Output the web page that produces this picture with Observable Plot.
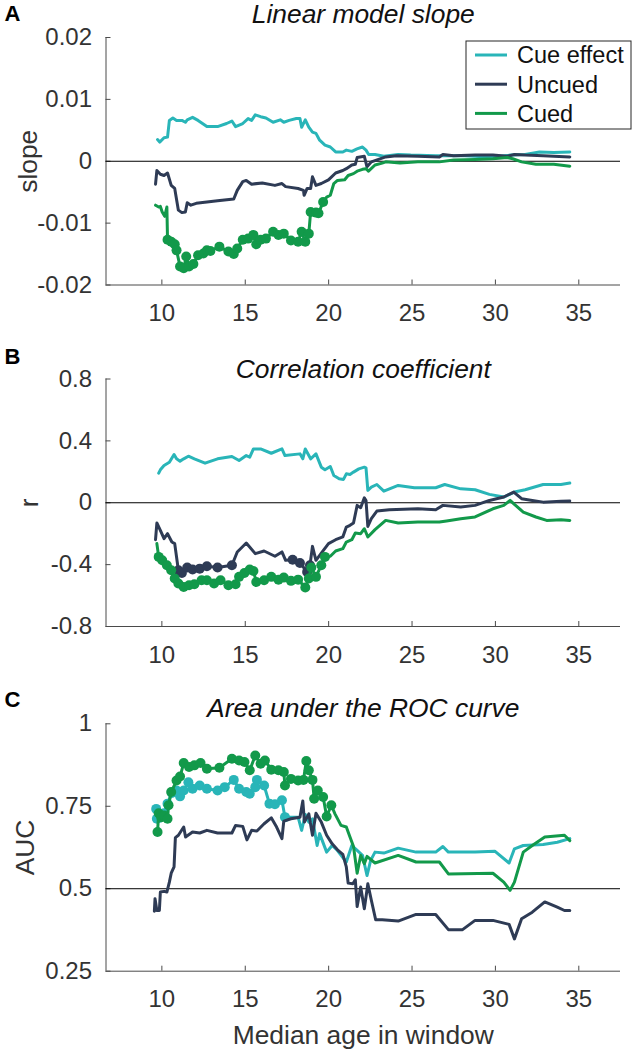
<!DOCTYPE html>
<html>
<head>
<meta charset="utf-8">
<script src="https://cdn.jsdelivr.net/npm/d3@7"></script>
<script src="https://cdn.jsdelivr.net/npm/@observablehq/plot@0.6"></script>
<style>
  html, body { margin: 0; padding: 0; background: #fff; }
  #root { position: relative; width: 635px; height: 1050px; overflow: hidden; font-family: "Liberation Sans", Arial, Helvetica, sans-serif; }
  #root > svg { position: absolute; left: 0; }
</style>
</head>
<body>
<div id="root"></div>
<script>
// ---------- data ----------
const seriesNames = ["Cue effect", "Uncued", "Cued"];
const seriesColors = ["#29b5b8", "#2e3b55", "#12994a"];

const xDomain = [6.65, 37.5];
const xTicks = [10, 15, 20, 25, 30, 35];
const xTickLabels = ["10", "15", "20", "25", "30", "35"];

// Panel A: linear model slope
const slopeTicks = [-0.02, -0.01, 0, 0.01, 0.02];
const slopeTickLabels = ["-0.02", "-0.01", "0", "0.01", "0.02"];
const slopeCue = [[9.74,0.0035],[9.87,0.0031],[10.13,0.0038],[10.34,0.0039],[10.45,0.0066],[10.66,0.007],[10.88,0.0066],[11.2,0.0066],[11.41,0.0063],[11.52,0.0067],[11.84,0.0071],[12.17,0.0066],[12.7,0.0056],[13.34,0.0056],[13.88,0.0061],[14.2,0.0065],[14.42,0.0056],[14.85,0.0061],[15.17,0.0069],[15.38,0.0066],[15.6,0.0075],[15.92,0.0072],[16.24,0.007],[16.67,0.0063],[17.1,0.0067],[17.31,0.0063],[17.63,0.0066],[18.06,0.0069],[18.28,0.0069],[18.38,0.0055],[18.6,0.0067],[18.81,0.0055],[19.03,0.0047],[19.24,0.0045],[19.46,0.0034],[19.78,0.0026],[20.1,0.0023],[20.42,0.0015],[20.85,0.0015],[21.06,0.0018],[21.39,0.0016],[21.7,0.002],[22.03,0.0023],[22.24,0.0018],[22.4,0.0011],[22.78,0.0011],[23.31,0.0008],[24.17,0.0011],[24.92,0.001],[26.42,0.0009],[28.14,0.0009],[29.64,0.0007],[30.93,0.001],[31.78,0.0011],[32.64,0.0015],[33.5,0.0014],[34.46,0.0015]];
const slopeUncued = [[9.62,-0.0037],[9.7,-0.0015],[9.91,-0.0021],[10.13,-0.0023],[10.34,-0.0019],[10.56,-0.0039],[10.77,-0.0044],[10.99,-0.0079],[11.2,-0.0083],[11.41,-0.0082],[11.52,-0.0067],[11.74,-0.0071],[12.06,-0.0068],[12.7,-0.0066],[13.34,-0.0064],[14.31,-0.0061],[14.52,-0.0047],[14.85,-0.0033],[15.06,-0.0031],[15.38,-0.0037],[16.02,-0.0035],[16.78,-0.0039],[17.2,-0.0036],[17.42,-0.0041],[18.17,-0.0044],[18.49,-0.0047],[18.53,-0.0055],[18.71,-0.0044],[18.92,-0.0044],[19.03,-0.0025],[19.24,-0.0039],[19.56,-0.0036],[19.99,-0.003],[20.42,-0.0019],[20.85,-0.0015],[21.06,-0.0012],[21.39,-0.0006],[21.6,-0.0005],[21.71,0.0006],[22.14,0.0008],[22.3,-0.0009],[22.56,-0.0001],[22.99,0.0003],[23.42,0.0007],[24.06,0.0009],[25.35,0.0008],[26.64,0.0007],[26.85,0.0011],[27.5,0.0009],[28.78,0.001],[29.85,0.001],[30.71,0.0008],[31.14,0.0011],[31.78,0.001],[32.86,0.0009],[34.46,0.0007]];
const slopeCued = [[9.62,-0.0071],[9.81,-0.0074],[9.91,-0.0073],[10.02,-0.0082],[10.17,-0.0089],[10.3,-0.0074],[10.34,-0.0127],[10.56,-0.013],[10.77,-0.0134],[10.88,-0.0144],[11.09,-0.017],[11.31,-0.0173],[11.46,-0.0154],[11.63,-0.017],[11.89,-0.0166],[12.17,-0.0152],[12.49,-0.0149],[12.7,-0.0144],[12.91,-0.0145],[13.45,-0.0138],[13.99,-0.0146],[14.31,-0.015],[14.52,-0.0141],[14.85,-0.0127],[15.17,-0.0125],[15.49,-0.0119],[15.66,-0.0134],[15.92,-0.0127],[16.24,-0.0125],[16.67,-0.0114],[16.99,-0.0119],[17.31,-0.0117],[17.74,-0.0128],[18.17,-0.013],[18.38,-0.0114],[18.6,-0.013],[18.81,-0.0117],[18.92,-0.0082],[19.24,-0.0083],[19.39,-0.0084],[19.67,-0.0066],[19.88,-0.0058],[20.1,-0.0055],[20.31,-0.0036],[20.53,-0.0031],[20.96,-0.003],[21.17,-0.0023],[21.49,-0.002],[21.71,-0.0016],[22.03,-0.0013],[22.24,-0.0012],[22.39,-0.0016],[22.78,-0.0006],[23.21,-0.0003],[23.42,-0.0001],[24.28,-0.0003],[25.35,-0.0001],[26.64,-0.0001],[27.5,0.0002],[28.78,0.0003],[29.85,0.0004],[30.71,0.0006],[31.04,0.0004],[31.57,-0.0001],[32.43,-0.0005],[33.5,-0.0005],[34.46,-0.0008]];
const slopeSig = [[], [], [[10.32, 19.7]]];

// Panel B: correlation coefficient
const rTicks = [-0.8, -0.4, 0, 0.4, 0.8];
const rTickLabels = ["-0.8", "-0.4", "0", "0.4", "0.8"];
const rCue = [[9.81,0.191],[9.91,0.213],[10.13,0.241],[10.45,0.262],[10.73,0.312],[10.88,0.284],[11.09,0.269],[11.31,0.284],[11.59,0.301],[11.95,0.284],[12.59,0.256],[13.34,0.284],[14.2,0.299],[14.63,0.273],[15.06,0.305],[15.27,0.295],[15.49,0.348],[15.92,0.348],[16.56,0.32],[17.2,0.348],[17.38,0.305],[18.28,0.316],[18.45,0.284],[18.6,0.348],[18.92,0.284],[19.24,0.316],[19.56,0.23],[19.78,0.213],[20.1,0.234],[20.31,0.176],[20.63,0.155],[20.89,0.151],[21.06,0.187],[21.28,0.183],[21.49,0.198],[21.81,0.219],[22.14,0.23],[22.24,0.226],[22.35,0.08],[22.56,0.101],[22.89,0.118],[23.31,0.075],[24.17,0.112],[25.14,0.097],[26.42,0.097],[26.96,0.118],[27.92,0.09],[28.78,0.084],[29.64,0.054],[30.5,0.037],[31.14,0.069],[31.78,0.084],[32.86,0.118],[33.93,0.118],[34.46,0.127]];
const rUncued = [[9.62,-0.239],[9.7,-0.131],[9.91,-0.178],[10.13,-0.232],[10.34,-0.2],[10.6,-0.254],[10.77,-0.264],[10.99,-0.436],[11.2,-0.454],[11.52,-0.419],[11.84,-0.432],[12.27,-0.426],[12.7,-0.411],[13.34,-0.419],[14.2,-0.404],[14.52,-0.318],[15.06,-0.26],[15.6,-0.329],[16.13,-0.312],[16.78,-0.346],[17.2,-0.318],[17.42,-0.372],[17.84,-0.368],[18.28,-0.389],[18.71,-0.447],[18.88,-0.404],[19.03,-0.282],[19.24,-0.372],[19.56,-0.325],[19.99,-0.264],[20.42,-0.239],[20.85,-0.221],[21.06,-0.157],[21.28,-0.146],[21.49,-0.131],[21.71,-0.017],[21.92,-0.032],[22.14,0.032],[22.24,0.015],[22.35,-0.153],[22.56,-0.103],[22.89,-0.054],[23.64,-0.045],[25.35,-0.039],[26.42,-0.045],[26.85,-0.017],[27.92,-0.028],[28.78,-0.017],[29.64,0.015],[30.5,0.037],[31.1,0.069],[31.57,0.026],[32.21,0.015],[32.86,0.004],[33.93,0.009],[34.46,0.011]];
const rCued = [[9.7,-0.264],[9.81,-0.35],[10.02,-0.372],[10.3,-0.404],[10.56,-0.436],[10.77,-0.49],[10.99,-0.522],[11.31,-0.544],[11.63,-0.533],[11.95,-0.527],[12.38,-0.501],[12.7,-0.501],[13.13,-0.522],[13.52,-0.501],[13.99,-0.533],[14.42,-0.527],[14.63,-0.479],[14.95,-0.454],[15.27,-0.432],[15.49,-0.441],[15.66,-0.512],[16.13,-0.501],[16.56,-0.479],[16.99,-0.497],[17.31,-0.484],[17.74,-0.505],[18.17,-0.497],[18.6,-0.548],[18.81,-0.49],[18.96,-0.419],[19.24,-0.479],[19.56,-0.404],[19.78,-0.35],[20.1,-0.346],[20.42,-0.312],[20.85,-0.297],[21.06,-0.254],[21.39,-0.239],[21.6,-0.196],[21.92,-0.2],[22.14,-0.168],[22.35,-0.221],[22.78,-0.174],[23.42,-0.114],[24.17,-0.131],[25.35,-0.125],[26.64,-0.125],[27.07,-0.118],[27.92,-0.103],[28.78,-0.092],[29.85,-0.039],[30.5,-0.017],[30.88,0.015],[31.14,-0.011],[31.67,-0.06],[32.43,-0.092],[33.07,-0.114],[33.93,-0.11],[34.46,-0.114]];
const rSig = [[], [[10.99, 14.25], [17.8, 18.9]], [[9.8, 19.8]]];

// Panel C: area under the ROC curve
const aucTicks = [0.25, 0.5, 0.75, 1];
const aucTickLabels = ["0.25", "0.5", "0.75", "1"];
const aucCue = [[9.66,0.742],[9.7,0.712],[9.87,0.715],[10.13,0.729],[10.34,0.758],[10.6,0.79],[10.88,0.798],[11.09,0.78],[11.31,0.798],[11.59,0.823],[11.84,0.803],[12.27,0.813],[12.7,0.803],[13.34,0.798],[13.77,0.808],[14.31,0.83],[14.63,0.803],[15.06,0.793],[15.27,0.788],[15.6,0.808],[15.7,0.83],[16.13,0.813],[16.45,0.758],[16.78,0.756],[17.2,0.768],[17.38,0.717],[18.17,0.717],[18.38,0.677],[18.6,0.725],[18.81,0.702],[19.03,0.712],[19.31,0.631],[19.46,0.667],[19.88,0.611],[20.21,0.631],[20.53,0.616],[21.06,0.581],[21.39,0.631],[21.71,0.616],[22.03,0.601],[22.3,0.54],[22.52,0.586],[22.78,0.611],[23.31,0.608],[24.17,0.623],[25.24,0.611],[26.42,0.611],[26.85,0.628],[27.18,0.611],[28.78,0.611],[29.96,0.614],[30.82,0.578],[31.14,0.621],[31.67,0.631],[32.86,0.634],[33.71,0.641],[34.46,0.652]];
const aucUncued = [[9.55,0.432],[9.59,0.47],[9.7,0.434],[9.85,0.434],[9.91,0.49],[10.13,0.492],[10.3,0.49],[10.45,0.52],[10.56,0.547],[10.73,0.566],[10.81,0.655],[10.99,0.662],[11.31,0.687],[11.42,0.657],[11.84,0.672],[12.27,0.669],[12.7,0.677],[13.34,0.669],[14.2,0.669],[14.42,0.692],[14.85,0.689],[15.1,0.648],[15.38,0.677],[15.7,0.675],[16.13,0.697],[16.56,0.715],[16.88,0.687],[17.2,0.652],[17.31,0.705],[17.74,0.712],[18.28,0.717],[18.45,0.766],[18.55,0.702],[18.81,0.727],[19.03,0.662],[19.24,0.729],[19.56,0.702],[19.88,0.662],[20.21,0.636],[20.53,0.618],[20.85,0.604],[21.06,0.566],[21.17,0.517],[21.45,0.515],[21.6,0.527],[21.71,0.446],[21.92,0.505],[22.14,0.439],[22.35,0.515],[22.56,0.465],[22.82,0.406],[23.21,0.406],[24.17,0.402],[25.24,0.422],[26.42,0.422],[27.18,0.376],[28.03,0.376],[28.78,0.404],[29.85,0.404],[30.82,0.392],[31.14,0.348],[31.57,0.409],[32.21,0.429],[32.96,0.46],[33.71,0.444],[34.14,0.434],[34.46,0.434]];
const aucCued = [[9.74,0.672],[9.81,0.729],[9.96,0.717],[10.13,0.722],[10.34,0.712],[10.4,0.753],[10.56,0.793],[10.88,0.828],[11.09,0.84],[11.31,0.881],[11.63,0.869],[11.95,0.874],[12.32,0.881],[12.7,0.864],[13.45,0.867],[14.2,0.894],[14.63,0.889],[14.95,0.884],[15.27,0.859],[15.6,0.904],[15.92,0.879],[16.18,0.889],[16.56,0.861],[16.99,0.859],[17.31,0.854],[17.38,0.813],[17.74,0.833],[18.17,0.828],[18.49,0.83],[18.66,0.887],[18.81,0.859],[19.03,0.83],[19.13,0.773],[19.35,0.798],[19.67,0.778],[19.88,0.719],[20.16,0.753],[20.38,0.727],[20.74,0.692],[21.06,0.687],[21.28,0.657],[21.49,0.628],[21.71,0.547],[21.92,0.601],[22.14,0.576],[22.3,0.598],[22.78,0.578],[24.17,0.601],[25.24,0.581],[26.64,0.581],[27.18,0.545],[29.85,0.547],[30.5,0.52],[30.88,0.495],[31.14,0.52],[31.67,0.611],[32.21,0.631],[32.96,0.657],[34.14,0.662],[34.46,0.646]];
const aucSig = [[[9.6, 17.4]], [], [[9.7, 20.2]]];

// ---------- layout ----------
const W = 635;
const font = '"Liberation Sans", Arial, Helvetica, sans-serif';
const axisGray = "#4a4a4a";
const textGray = "#333333";

const panels = [
  {letter: "A", title: "Linear model slope", ylabel: "slope", yDomain: [-0.02, 0.02], yTicks: slopeTicks, yTickLabels: slopeTickLabels, ref: 0,
   series: [slopeCue, slopeUncued, slopeCued], sig: slopeSig,
   top: 0, height: 343, mTop: 37, mBottom: 58.5, titleDy: -14.3, letterDy: -17, ylabelDx: -77, xlabel: false},
  {letter: "B", title: "Correlation coefficient", ylabel: "r", yDomain: [-0.8, 0.8], yTicks: rTicks, yTickLabels: rTickLabels, ref: 0,
   series: [rCue, rUncued, rCued], sig: rSig,
   top: 343, height: 343, mTop: 35.5, mBottom: 60, titleDy: -1.5, letterDy: -15.5, ylabelDx: -76, xlabel: false},
  {letter: "C", title: "Area under the ROC curve", ylabel: "AUC", yDomain: [0.25, 1], yTicks: aucTicks, yTickLabels: aucTickLabels, ref: 0.5,
   series: [aucCue, aucUncued, aucCued], sig: aucSig,
   top: 686, height: 364, mTop: 37.3, mBottom: 79.3, titleDy: -6.6, letterDy: -17.3, ylabelDx: -80, xlabel: true},
];

const root = document.getElementById("root");
const mLeft = 105.5, mRight = 15;

for (const p of panels) {
  const innerH = p.height - p.mTop - p.mBottom;
  const innerW = W - mLeft - mRight;
  const inSig = (x, ranges) => ranges.some(([a, b]) => x >= a && x <= b);
  const marks = [];
  // axis lines
  marks.push(Plot.ruleX([xDomain[0]], {stroke: axisGray, strokeWidth: 1}));
  marks.push(Plot.ruleY([p.yDomain[0]], {stroke: axisGray, strokeWidth: 1}));
  // inward ticks
  marks.push(Plot.tickX(xTicks, {x: d => d, stroke: axisGray, strokeWidth: 1, insetTop: innerH - 5}));
  marks.push(Plot.tickY(p.yTicks, {y: d => d, stroke: axisGray, strokeWidth: 1, insetRight: innerW - 5}));
  // tick labels
  marks.push(Plot.axisX(xTicks, {tickSize: 0, tickPadding: 19, fontSize: 24, fill: textGray, tickFormat: d => xTickLabels[xTicks.indexOf(d)], label: null}));
  marks.push(Plot.axisY(p.yTicks, {tickSize: 0, tickPadding: 14, fontSize: 24, fill: textGray, tickFormat: d => p.yTickLabels[p.yTicks.indexOf(d)], label: null}));
  // reference line
  marks.push(Plot.ruleY([p.ref], {stroke: "#000", strokeWidth: 1}));
  // series
  p.series.forEach((s, i) => {
    marks.push(Plot.line(s, {x: d => d[0], y: d => d[1], stroke: seriesColors[i], strokeWidth: 3, strokeLinejoin: "round"}));
    const sigPts = s.filter(d => inSig(d[0], p.sig[i]));
    if (sigPts.length) marks.push(Plot.dot(sigPts, {x: d => d[0], y: d => d[1], r: 5, fill: seriesColors[i], stroke: "none"}));
  });
  // texts
  marks.push(Plot.text([p.title], {text: d => d, frameAnchor: "top", dy: p.titleDy, lineAnchor: "bottom", fontSize: 26.4, fontStyle: "italic", fill: "#111"}));
  marks.push(Plot.text([p.letter], {text: d => d, frameAnchor: "top-left", dx: 4 - mLeft, dy: p.letterDy, lineAnchor: "bottom", textAnchor: "start", fontSize: 22, fontWeight: "bold", fill: "#000"}));
  marks.push(Plot.text([p.ylabel], {text: d => d, frameAnchor: "left", dx: p.ylabelDx, rotate: -90, textAnchor: "middle", lineAnchor: "middle", fontSize: 26.4, fill: textGray}));
  if (p.xlabel) marks.push(Plot.text(["Median age in window"], {text: d => d, frameAnchor: "bottom", dy: 72.3, lineAnchor: "bottom", fontSize: 26.4, fill: textGray}));

  const svg = Plot.plot({
    width: W, height: p.height,
    marginLeft: mLeft, marginRight: mRight, marginTop: p.mTop, marginBottom: p.mBottom,
    x: {domain: xDomain, axis: null},
    y: {domain: p.yDomain, axis: null},
    style: {fontFamily: font, background: "transparent", overflow: "visible"},
    marks
  });
  svg.style.top = p.top + "px";
  root.appendChild(svg);
}

// legend (inside panel A)
const legend = d3.select(root).append("svg")
  .attr("width", W).attr("height", 140)
  .style("position", "absolute").style("left", "0px").style("top", "0px");
legend.append("rect").attr("x", 466).attr("y", 41).attr("width", 165).attr("height", 88)
  .attr("fill", "#fff").attr("stroke", "#262626").attr("stroke-width", 1);
seriesNames.forEach((name, i) => {
  const cy = 55 + i * 29.2;
  legend.append("line").attr("x1", 475).attr("x2", 507).attr("y1", cy).attr("y2", cy)
    .attr("stroke", seriesColors[i]).attr("stroke-width", 3);
  legend.append("text").attr("x", 517).attr("y", cy + 8.4).text(name)
    .attr("font-family", font).attr("font-size", 23.5).attr("fill", "#111");
});
</script>
</body>
</html>
